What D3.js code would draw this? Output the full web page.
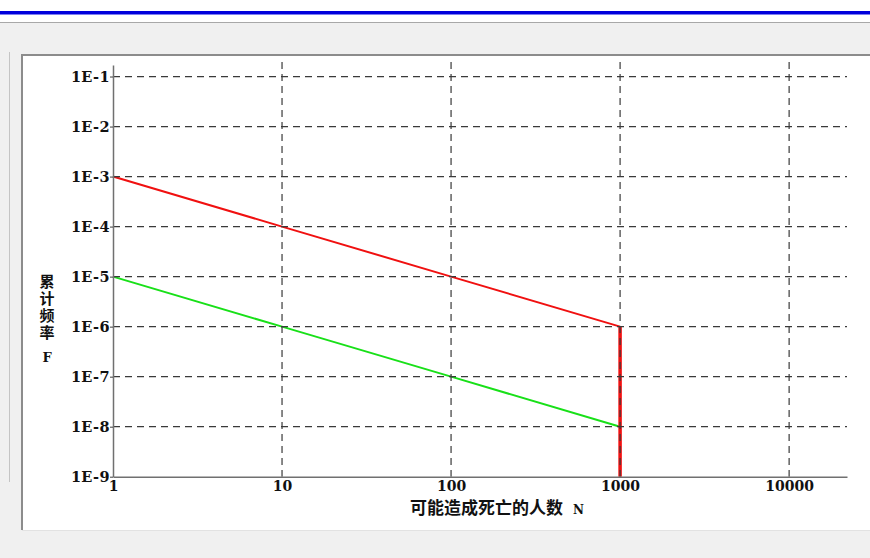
<!DOCTYPE html>
<html>
<head>
<meta charset="utf-8">
<script src="https://cdn.jsdelivr.net/npm/d3@7"></script>
<style>
  html, body { margin: 0; padding: 0; background: #ffffff; }
  svg { display: block; }
</style>
</head>
<body>
<script>
// F-N curve: cumulative frequency of accidents vs. number of possible fatalities
const xTickValues = [1, 10, 100, 1000, 10000];
const xTickLabels = ["1", "10", "100", "1000", "10000"];
const yTickValues = [1e-1, 1e-2, 1e-3, 1e-4, 1e-5, 1e-6, 1e-7, 1e-8, 1e-9];
const yTickLabels = ["1E-1", "1E-2", "1E-3", "1E-4", "1E-5", "1E-6", "1E-7", "1E-8", "1E-9"];

// upper (intolerable) boundary
const upperN = [1, 10, 100, 1000];
const upperF = [1e-3, 1e-4, 1e-5, 1e-6];
// lower (negligible) boundary
const lowerN = [1, 10, 100, 1000];
const lowerF = [1e-5, 1e-6, 1e-7, 1e-8];
// cut-off at the maximum number of fatalities
const cutoffN = [1000, 1000];
const cutoffF = [1e-6, 1e-9];

const xTitle = "可能造成死亡的人数";
const xTitleSymbol = "N";
const yTitle = "累计频率";
const yTitleSymbol = "F";

const W = 870, H = 558;
const svg = d3.select("body").append("svg").attr("width", W).attr("height", H);

// window frame
svg.append("rect").attr("x", 0).attr("y", 0).attr("width", W).attr("height", H).attr("fill", "#ffffff");
svg.append("rect").attr("x", 0).attr("y", 11).attr("width", W).attr("height", 3).attr("fill", "#0000dc");
svg.append("rect").attr("x", 0).attr("y", 14).attr("width", W).attr("height", 1).attr("fill", "#7f7ff0");
svg.append("rect").attr("x", 0).attr("y", 22).attr("width", W).attr("height", H - 22).attr("fill", "#f0f0f0");
svg.append("rect").attr("x", 0).attr("y", 22).attr("width", W).attr("height", 1).attr("fill", "#a8a8a8");
svg.append("rect").attr("x", 9).attr("y", 52).attr("width", 1).attr("height", 430).attr("fill", "#c4c4c4");
svg.append("rect").attr("x", 22).attr("y", 55).attr("width", W - 22).attr("height", 475).attr("fill", "#ffffff");
svg.append("rect").attr("x", 21).attr("y", 54).attr("width", W - 21).attr("height", 2).attr("fill", "#8c8c8c");
svg.append("rect").attr("x", 21).attr("y", 54).attr("width", 2).attr("height", 476).attr("fill", "#8c8c8c");
svg.append("rect").attr("x", 22).attr("y", 530).attr("width", W - 22).attr("height", 1).attr("fill", "#e2e2e2");

const x = d3.scaleLog().domain([1, 22000]).range([113, 847]);
const y = d3.scaleLog().domain([1e-9, 0.17]).range([476.7, 65]);

const g = svg.append("g");

// data lines
const line = d3.line().x(d => x(d[0])).y(d => y(d[1]));
g.append("path").datum(d3.zip(upperN, upperF)).attr("d", line)
  .attr("fill", "none").attr("stroke", "#f01010").attr("stroke-width", 2);
g.append("path").datum(d3.zip(lowerN, lowerF)).attr("d", line)
  .attr("fill", "none").attr("stroke", "#18e018").attr("stroke-width", 2);
g.append("path").datum(d3.zip(cutoffN, cutoffF)).attr("d", line)
  .attr("fill", "none").attr("stroke", "#f01010").attr("stroke-width", 3.5);

// dashed grid
const gridColor = "#3a3a3a";
g.append("g").selectAll("line").data(yTickValues.slice(0, -1)).join("line")
  .attr("x1", x(1)).attr("x2", x.range()[1])
  .attr("y1", d => y(d)).attr("y2", d => y(d))
  .attr("stroke", gridColor).attr("stroke-width", 1.2).attr("stroke-dasharray", "7,5");
g.append("g").selectAll("line").data(xTickValues.slice(1)).join("line")
  .attr("x1", d => x(d)).attr("x2", d => x(d))
  .attr("y1", 62).attr("y2", y(1e-9))
  .attr("stroke", gridColor).attr("stroke-width", 1.2).attr("stroke-dasharray", "7,5");

// axes
const font = "'DejaVu Serif', 'Liberation Serif', serif";
const yAxis = d3.axisLeft(y).tickValues(yTickValues).tickFormat((d, i) => yTickLabels[i]).tickSize(3).tickSizeOuter(0);
const yg = g.append("g").attr("transform", `translate(${x(1)},0)`).call(yAxis);
yg.select(".domain").attr("stroke", "#707070").attr("stroke-width", 1.5);
yg.selectAll(".tick line").attr("stroke", "#404040");
yg.selectAll("text").attr("font-family", font).attr("font-weight", "bold")
  .attr("font-size", 14.5).attr("letter-spacing", 0.4).attr("fill", "#111").attr("x", -3).attr("dy", "0.34em");

const xAxis = d3.axisBottom(x).tickValues(xTickValues).tickFormat((d, i) => xTickLabels[i]).tickSize(0).tickSizeOuter(0);
const xg = g.append("g").attr("transform", `translate(0,${y(1e-9)})`).call(xAxis);
xg.select(".domain").attr("stroke", "#707070").attr("stroke-width", 1.5);
xg.selectAll("text").attr("font-family", font).attr("font-weight", "bold")
  .attr("font-size", 14).attr("fill", "#111").attr("y", 4);

// axis titles
const cjk = "'Noto Sans CJK SC', sans-serif";
const xt = svg.append("text").attr("x", 410).attr("y", 514)
  .attr("font-family", cjk).attr("font-weight", "bold").attr("font-size", 17).attr("fill", "#111");
xt.append("tspan").text(xTitle);
xt.append("tspan").attr("dx", 10).attr("font-family", font).attr("font-size", 12).text(xTitleSymbol);

// vertical y title: characters stacked top to bottom
svg.append("text").attr("x", 47).attr("y", 274)
  .attr("writing-mode", "vertical-rl").style("text-orientation", "upright")
  .attr("letter-spacing", 2)
  .attr("font-family", cjk).attr("font-weight", "bold").attr("font-size", 15)
  .attr("fill", "#111").text(yTitle);
svg.append("text").attr("x", 47).attr("y", 362).attr("text-anchor", "middle")
  .attr("font-family", font).attr("font-weight", "bold").attr("font-size", 13)
  .attr("fill", "#111").text(yTitleSymbol);
</script>
</body>
</html>
